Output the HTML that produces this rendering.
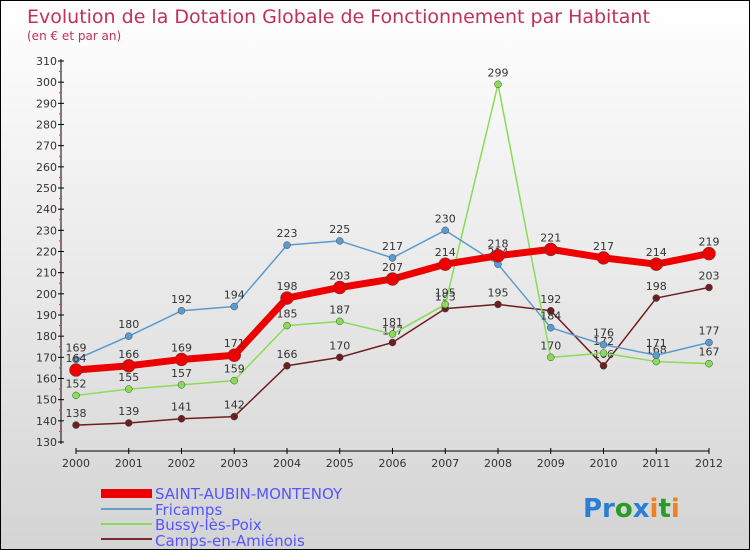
<!DOCTYPE html>
<html><head><meta charset="utf-8"><style>
body{margin:0}
#c{width:748px;height:548px;border:1px solid #000;background:linear-gradient(#fff,#d4d4d4);position:relative;font-family:"DejaVu Sans","Liberation Sans",sans-serif;overflow:hidden}
</style></head><body>
<div id="c">
<svg id="s" width="748" height="548">
<text x="26" y="22" font-size="19" fill="#c0305a">Evolution de la Dotation Globale de Fonctionnement par Habitant</text>
<text x="26" y="39" font-size="12" fill="#c0305a">(en € et par an)</text>
<g id="ax"></g><g id="ser"></g>
<g>
<rect x="100" y="488" width="51" height="9" fill="#e00"/>
<text x="154" y="498" font-size="15" fill="#5555ff">SAINT-AUBIN-MONTENOY</text>
<line x1="100" y1="508" x2="151" y2="508" stroke="#6aa0cc" stroke-width="2"/>
<text x="154" y="514" font-size="15" fill="#5555ff">Fricamps</text>
<line x1="100" y1="523" x2="151" y2="523" stroke="#88dd55" stroke-width="2"/>
<text x="154" y="529" font-size="15" fill="#5555ff">Bussy-lès-Poix</text>
<line x1="100" y1="538" x2="151" y2="538" stroke="#7a2a2a" stroke-width="2"/>
<text x="154" y="545" font-size="15" fill="#5555ff">Camps-en-Amiénois</text>
</g>
<text x="582" y="516" font-size="26" font-weight="bold"><tspan fill="#2a7fd4">Pr</tspan><tspan fill="#2a9a2a">o</tspan><tspan fill="#2a7fd4">x</tspan><tspan fill="#f08020">i</tspan><tspan fill="#2a9a2a">t</tspan><tspan fill="#f08020">i</tspan></text>
</svg></div>
<script>
const years=[2000,2001,2002,2003,2004,2005,2006,2007,2008,2009,2010,2011,2012];
const yTicks=[130,140,150,160,170,180,190,200,210,220,230,240,250,260,270,280,290,300,310];
const saint=[164,166,169,171,198,203,207,214,218,221,217,214,219];
const fricamps=[169,180,192,194,223,225,217,230,214,184,176,171,177];
const bussy=[152,155,157,159,185,187,181,195,299,170,172,168,167];
const camps=[138,139,141,142,166,170,177,193,195,192,166,198,203];
const NS="http://www.w3.org/2000/svg";
const X=i=>75+i*52.75, Y=v=>441-(v-130)*(381/180);
function mk(t,a,p){const e=document.createElementNS(NS,t);for(const k in a)e.setAttribute(k,a[k]);p.appendChild(e);return e;}
const ax=document.getElementById('ax'),ser=document.getElementById('ser');
mk('line',{x1:60,y1:58,x2:60,y2:443,stroke:'#000'},ax);
mk('line',{x1:75,y1:450,x2:708,y2:450,stroke:'#000'},ax);
yTicks.forEach(v=>{mk('line',{x1:57,y1:Y(v),x2:63,y2:Y(v),stroke:'#000'},ax);
 if(v<310)mk('line',{x1:58,y1:Y(v+5),x2:60,y2:Y(v+5),stroke:'#e33'},ax);
 const t=mk('text',{x:56,y:Y(v)+4,'font-size':11,'text-anchor':'end',fill:'#333'},ax);t.textContent=v;
 
 });
years.forEach((y,i)=>{mk('line',{x1:X(i),y1:447,x2:X(i),y2:453,stroke:'#000'},ax);
 const t=mk('text',{x:X(i),y:466,'font-size':11,'text-anchor':'middle',fill:'#333'},ax);t.textContent=y;
 
 });
function series(d,col,w,r,name){
 const g=mk('g',{},ser);
 
 
 mk('polyline',{points:d.map((v,i)=>X(i)+','+Y(v)).join(' '),fill:'none',stroke:col,'stroke-width':w,'stroke-linejoin':'round'},g);
 d.forEach((v,i)=>{const c=mk('circle',{cx:X(i),cy:Y(v),r:r,fill:col,stroke:'#444','stroke-width':0.5},g);
  
  
  const t=mk('text',{x:X(i),y:Y(v)-8,'font-size':11,'text-anchor':'middle',fill:'#333'},g);t.textContent=v;});
}
series(camps,'#6e1e1e',1.5,3.5,'series-camps');
series(bussy,'#88dd55',1.5,3.5,'series-bussy');
series(fricamps,'#5a9bd0',1.5,3.5,'series-fricamps');
series(saint,'#ee0000',7,6.5,'series-saint-aubin');
</script></body></html>
